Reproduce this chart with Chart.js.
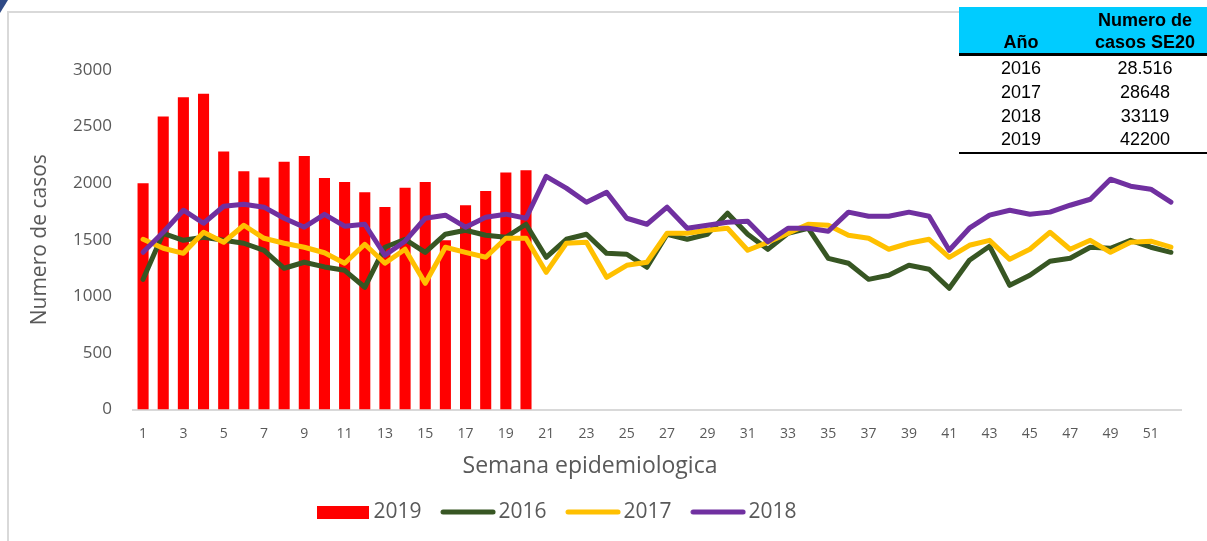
<!DOCTYPE html>
<html>
<head>
<meta charset="utf-8">
<script src="https://cdn.jsdelivr.net/npm/chart.js@4.4.0/dist/chart.umd.min.js"></script>
<style>
html,body{margin:0;padding:0;background:#fff;}
#wrap{position:relative;width:1207px;height:541px;overflow:hidden;background:#fff;}
#frame{position:absolute;left:7px;top:11px;width:1400px;height:700px;border-left:2px solid #d9d9d9;border-top:2px solid #d9d9d9;}
#corner{position:absolute;left:0;top:0;width:8px;height:13px;background:#2f4a86;clip-path:polygon(0 0,100% 0,0 100%);}
#c{position:absolute;left:0;top:0;}
#tbl{position:absolute;left:959px;top:7px;width:248px;font-family:"Liberation Sans",Arial,sans-serif;font-size:18px;color:#000;z-index:2;}
#tbl .hd{background:#00ccff;height:46px;display:flex;align-items:flex-end;font-weight:bold;line-height:22px;border-bottom:3px solid #000;}
#tbl .c1{width:124px;text-align:center;}
#tbl .c2{width:124px;text-align:center;}
#tbl .row{display:flex;height:23.8px;line-height:21.8px;padding-top:2px;box-sizing:border-box;}
#tbl .last{border-bottom:2.5px solid #000;height:26.3px;}
</style>
</head>
<body>
<div id="wrap">
  <div id="frame"></div>
  <div id="corner"></div>
  <canvas id="c" width="1207" height="541"></canvas>
  <div id="tbl"></div>
</div>
<script>
// ---- data ----
const weeks = ['1','2','3','4','5','6','7','8','9','10','11','12','13','14','15','16','17','18','19','20',
  '21','22','23','24','25','26','27','28','29','30','31','32','33','34','35','36','37','38','39','40',
  '41','42','43','44','45','46','47','48','49','50','51','52'];
const cases2019 = [2000,2590,2760,2790,2280,2105,2050,2190,2240,2045,2010,1920,1790,1960,2010,1495,1805,1930,2095,2115];
const cases2016 = [1150,1557,1495,1522,1495,1469,1407,1248,1301,1260,1230,1080,1434,1504,1389,1549,1584,1540,1522,1637,
  1345,1504,1549,1380,1372,1257,1549,1504,1549,1735,1549,1415,1557,1602,1336,1292,1150,1186,1274,1239,
  1071,1319,1443,1097,1186,1310,1336,1434,1425,1495,1434,1389];
const cases2017 = [1504,1425,1380,1566,1478,1628,1513,1469,1434,1385,1292,1460,1292,1416,1115,1434,1389,1345,1513,1513,
  1212,1469,1478,1168,1274,1301,1557,1557,1584,1602,1407,1478,1557,1637,1628,1540,1513,1416,1469,1504,
  1345,1451,1495,1327,1416,1566,1416,1495,1389,1478,1487,1434];
const cases2018 = [1389,1566,1761,1646,1796,1814,1788,1690,1611,1725,1620,1637,1363,1487,1690,1717,1611,1699,1726,1690,
  2060,1956,1832,1920,1690,1637,1788,1602,1628,1655,1664,1482,1602,1602,1575,1744,1708,1708,1744,1708,
  1407,1602,1717,1761,1726,1744,1805,1858,2035,1973,1947,1832];
const yTicks = [0,500,1000,1500,2000,2500,3000];
const tableYears = ['2016','2017','2018','2019'];
const tableValues = ['28.516','28648','33119','42200'];
const tableHeader = ['Año','Numero de<br>casos SE20'];

// ---- table ----
(function(){
  const t = document.getElementById('tbl');
  let h = '<div class="hd"><div class="c1">'+tableHeader[0]+'</div><div class="c2">'+tableHeader[1]+'</div></div>';
  tableYears.forEach((y,i)=>{
    h += '<div class="row'+(i===tableYears.length-1?' last':'')+'"><div class="c1">'+y+'</div><div class="c2">'+tableValues[i]+'</div></div>';
  });
  t.innerHTML = h;
})();

const RED='#ff0000', GREEN='#375623', GOLD='#ffc000', PURPLE='#7030a0', TXT='#595959';

function swatch(color, type){
  const c=document.createElement('canvas');
  if(type==='bar'){ c.width=52; c.height=13; const x=c.getContext('2d'); x.fillStyle=color; x.fillRect(0,0,52,13); }
  else { c.width=56; c.height=8; const x=c.getContext('2d'); x.strokeStyle=color; x.lineWidth=5; x.lineCap='round'; x.beginPath(); x.moveTo(3,4); x.lineTo(53,4); x.stroke(); }
  return c;
}
const legendItems = [
  {text:'2019', img:swatch(RED,'bar'), ds:0},
  {text:'2016', img:swatch(GREEN,'line'), ds:1},
  {text:'2017', img:swatch(GOLD,'line'), ds:2},
  {text:'2018', img:swatch(PURPLE,'line'), ds:3}
];

const placer = {
  id:'placer',
  afterLayout(chart){
    const t = chart.titleBlock;
    if(t){ t.left = 290; t.right = 890; t.top = 466 - 13.8; t.bottom = t.top + 27.6; }
    const l = chart.legend;
    if(l){ l.left = 296.5; l.top = 475; }
  }
};

const lineCommon = {type:'line', borderWidth:5, pointRadius:0, pointHoverRadius:0, tension:0, borderCapStyle:'round', borderJoinStyle:'round', fill:false};

new Chart(document.getElementById('c'), {
  type:'bar',
  data:{
    labels: weeks,
    datasets:[
      {type:'bar', label:'2019', data:cases2019, backgroundColor:RED, borderWidth:0, barPercentage:0.55, categoryPercentage:1, order:4},
      Object.assign({label:'2016', data:cases2016, borderColor:GREEN, backgroundColor:GREEN, order:3}, lineCommon),
      Object.assign({label:'2017', data:cases2017, borderColor:GOLD, backgroundColor:GOLD, order:2}, lineCommon),
      Object.assign({label:'2018', data:cases2018, borderColor:PURPLE, backgroundColor:PURPLE, order:1}, lineCommon)
    ]
  },
  options:{
    responsive:false,
    animation:false,
    devicePixelRatio:1,
    layout:{padding:{left:12, right:26, top:70, bottom:0}},
    plugins:{
      tooltip:{enabled:false},
      title:{display:true, position:'bottom', weight:500, text:'Semana epidemiologica', color:TXT,
        font:{family:'"Open Sans"', size:23, weight:'normal', lineHeight:1.2}, padding:0},
      legend:{display:true, position:'bottom', align:'start',
        labels:{usePointStyle:true, pointStyleWidth:40, padding:26.5, color:TXT,
          font:{family:'"Open Sans"', size:21},
          generateLabels(){ return legendItems.map(it=>({text:it.text, pointStyle:it.img, fillStyle:'transparent', strokeStyle:'transparent', lineWidth:0, hidden:false, datasetIndex:it.ds, fontColor:TXT})); }
        }
      }
    },
    scales:{
      x:{
        offset:true,
        grid:{display:false, drawTicks:false},
        border:{display:true, color:'#d9d9d9', width:2},
        ticks:{autoSkip:false, maxRotation:0, minRotation:0, padding:16, color:TXT,
          font:{family:'"Open Sans"', size:14},
          callback(v, i){ return i % 2 === 0 ? weeks[i] : ''; }},
        afterFit(s){ s.height = 541 - 409 - 74 - 27.6 + 16; }
      },
      y:{
        min:0, max:3000,
        grid:{display:false, drawTicks:false},
        border:{display:false},
        afterBuildTicks(s){ s.ticks = yTicks.map(v=>({value:v})); },
        ticks:{padding:21, color:TXT, font:{family:'"Open Sans"', size:17},
          callback(v){ return String(v); }},
        title:{display:true, text:'Numero de casos', color:TXT, font:{family:'"Open Sans"', size:21}, padding:{top:15, bottom:0}},
        afterFit(s){ s.width = 121; }
      }
    }
  },
  plugins:[placer]
});
</script>
</body>
</html>
